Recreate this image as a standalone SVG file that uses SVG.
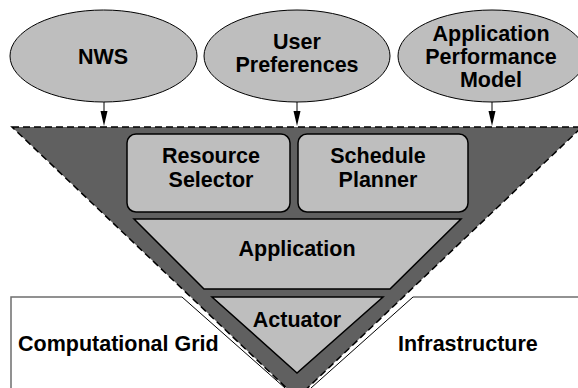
<svg xmlns="http://www.w3.org/2000/svg" width="578" height="388" viewBox="0 0 578 388">
<style>
.t{font-family:"Liberation Sans",Arial,sans-serif;font-weight:bold;font-size:21.5px;fill:#000;text-anchor:middle}
.tl{font-family:"Liberation Sans",Arial,sans-serif;font-weight:bold;font-size:21.5px;fill:#000}
.ell{fill:#bebebe;stroke:#000;stroke-width:1}
.box{fill:#bebebe;stroke:#000;stroke-width:1.5}
.ln{stroke:#000;stroke-width:1;fill:none}
.ah{fill:#000;stroke:none}
</style>
<rect width="578" height="388" fill="#fff"/>
<g id="grid-left">
<polyline points="11,388 11,297 182,297" fill="none" stroke="#6e6e6e" stroke-width="1.5"/>
<line x1="182" y1="297" x2="285" y2="388" stroke="#000" stroke-width="1"/>
<text class="tl" x="18" y="351">Computational Grid</text>
</g>
<g id="grid-right">
<line x1="413" y1="297" x2="578" y2="297" stroke="#6e6e6e" stroke-width="1.5"/>
<line x1="413" y1="297" x2="311" y2="388" stroke="#000" stroke-width="1"/>
<text class="tl" x="398" y="351">Infrastructure</text>
</g>
<g id="funnel">
<polygon points="12,127 582,127 297,398" fill="#606060" stroke="#000" stroke-width="1.5" stroke-dasharray="7 4"/>
</g>
<g id="nws">
<ellipse class="ell" cx="103.5" cy="56" rx="93.5" ry="46"/>
<text class="t" x="103" y="64">NWS</text>
</g>
<g id="user-preferences">
<ellipse class="ell" cx="297" cy="56" rx="93" ry="46"/>
<text class="t" x="297" y="49">User</text>
<text class="t" x="297" y="72">Preferences</text>
</g>
<g id="app-perf-model">
<ellipse class="ell" cx="492" cy="56" rx="94" ry="46"/>
<text class="t" x="491" y="41">Application</text>
<text class="t" x="491" y="64">Performance</text>
<text class="t" x="491" y="87">Model</text>
</g>
<g id="resource-selector">
<rect class="box" x="127" y="134" width="163" height="78" rx="9"/>
<text class="t" x="211" y="163">Resource</text>
<text class="t" x="211" y="187">Selector</text>
</g>
<g id="schedule-planner">
<rect class="box" x="298" y="134" width="170" height="78" rx="9"/>
<text class="t" x="378" y="163">Schedule</text>
<text class="t" x="378" y="187">Planner</text>
</g>
<g id="application">
<polygon class="box" points="134,219 461,219 390,289 204,289"/>
<text class="t" x="297" y="256">Application</text>
</g>
<g id="actuator">
<polygon class="box" points="212,297 383,297 297,373"/>
<text class="t" x="297" y="327">Actuator</text>
</g>
<g id="connectors">
<line class="ln" x1="104" y1="102" x2="104" y2="112"/>
<polygon class="ah" points="100.5,111 107.5,111 104,126"/>
<line class="ln" x1="297" y1="102" x2="297" y2="112"/>
<polygon class="ah" points="293.5,111 300.5,111 297,126"/>
<line class="ln" x1="492" y1="102" x2="492" y2="112"/>
<polygon class="ah" points="488.5,111 495.5,111 492,126"/>
</g>
</svg>
